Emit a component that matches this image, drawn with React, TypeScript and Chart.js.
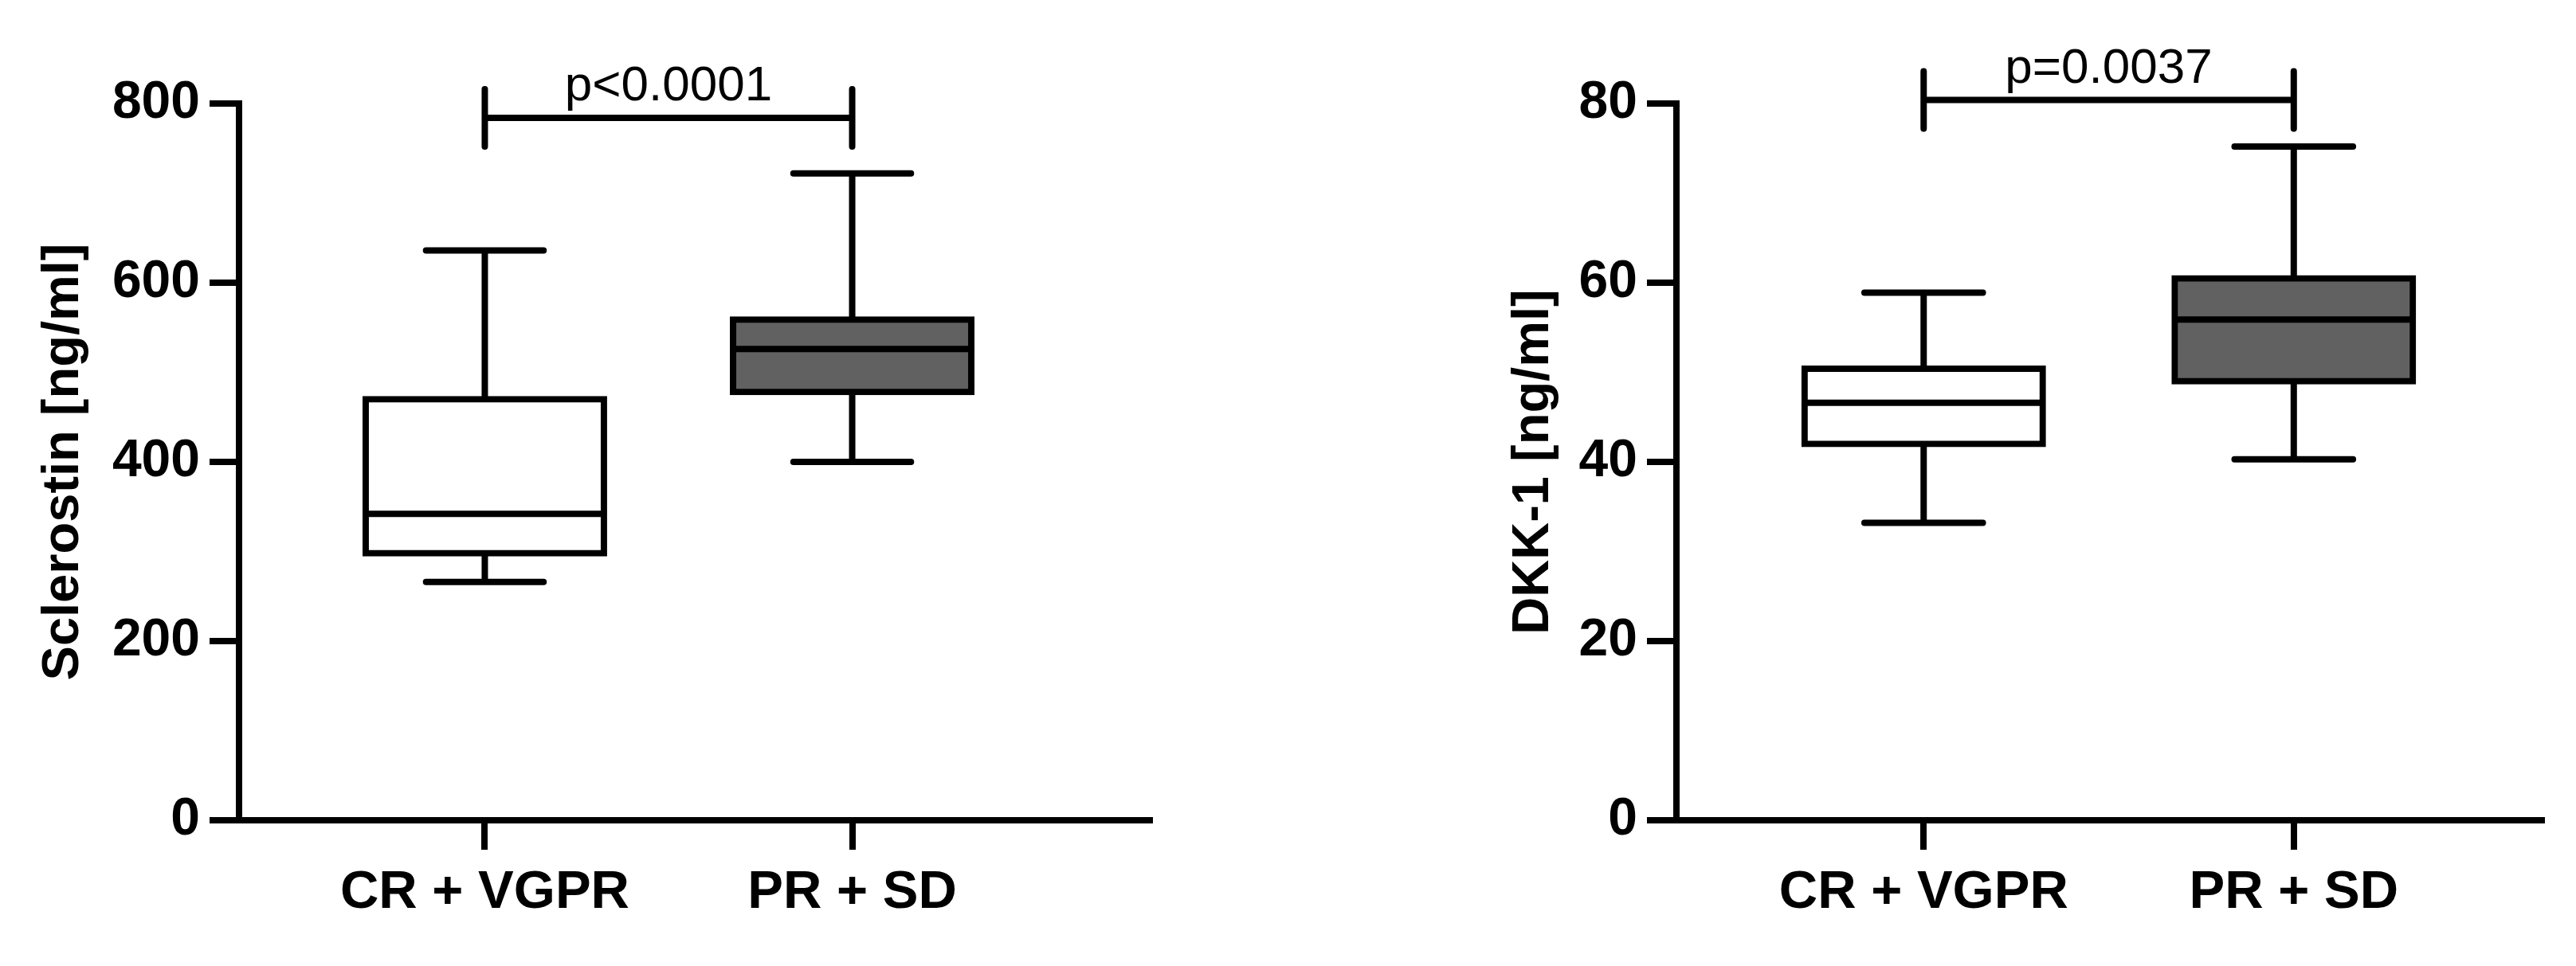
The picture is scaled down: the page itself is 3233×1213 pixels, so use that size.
import React, { useEffect, useRef } from "react";
import { Chart, registerables } from "chart.js";

Chart.register(...registerables);

// ---------- data ----------
const categories = ["CR + VGPR", "PR + SD"];
const positions = [1, 2];

const sclerostinMin = [266, 400];
const sclerostinQ1 = [298, 478];
const sclerostinMedian = [342, 526];
const sclerostinQ3 = [470, 559];
const sclerostinMax = [636, 722];
const sclerostinTicks = [0, 200, 400, 600, 800];
const sclerostinTitle = "Sclerostin [ng/ml]";
const sclerostinP = "p<0.0001";
const sclerostinBracketLevel = 784;

const dkkMin = [33.2, 40.3];
const dkkQ1 = [42.0, 49.0];
const dkkMedian = [46.6, 55.9];
const dkkQ3 = [50.4, 60.5];
const dkkMax = [58.9, 75.2];
const dkkTicks = [0, 20, 40, 60, 80];
const dkkTitle = "DKK-1 [ng/ml]";
const dkkP = "p=0.0037";
const dkkBracketLevel = 80.4;

const boxFills = ["#ffffff", "#616161"];

// ---------- styling ----------
const FONT = "'Liberation Sans', Arial, Helvetica, sans-serif";
const LINE = 8;

type PanelSpec = {
  mins: number[];
  q1: number[];
  med: number[];
  q3: number[];
  maxs: number[];
  ticks: number[];
  title: string;
  pText: string;
  bracket: number;
  xMin: number;
  xMax: number;
  yWidth: number;
  padRight: number;
};

function makeConfig(spec: PanelSpec): any {
  const whiskerPlugin = {
    id: "boxWhiskers",
    afterDatasetsDraw(chart: any) {
      const { ctx } = chart;
      const xs = chart.scales.x;
      const ys = chart.scales.y;
      const meta = chart.getDatasetMeta(0);
      ctx.save();
      ctx.strokeStyle = "#000";
      ctx.lineWidth = LINE;
      positions.forEach((pos, i) => {
        const el = meta.data[i];
        if (!el) return;
        const { x: cx, width } = el.getProps(["x", "width"], true);
        const capHalf = xs.getPixelForValue(pos + 0.16) - xs.getPixelForValue(pos);
        const yMin = ys.getPixelForValue(spec.mins[i]);
        const yQ1 = ys.getPixelForValue(spec.q1[i]);
        const yMed = ys.getPixelForValue(spec.med[i]);
        const yQ3 = ys.getPixelForValue(spec.q3[i]);
        const yMax = ys.getPixelForValue(spec.maxs[i]);
        // whisker stems
        ctx.lineCap = "butt";
        ctx.beginPath();
        ctx.moveTo(cx, yQ3);
        ctx.lineTo(cx, yMax);
        ctx.moveTo(cx, yQ1);
        ctx.lineTo(cx, yMin);
        ctx.stroke();
        // median
        ctx.beginPath();
        ctx.moveTo(cx - width / 2, yMed);
        ctx.lineTo(cx + width / 2, yMed);
        ctx.stroke();
        // caps
        ctx.lineCap = "round";
        ctx.beginPath();
        ctx.moveTo(cx - capHalf, yMax);
        ctx.lineTo(cx + capHalf, yMax);
        ctx.moveTo(cx - capHalf, yMin);
        ctx.lineTo(cx + capHalf, yMin);
        ctx.stroke();
      });
      // significance bracket
      const bx1 = xs.getPixelForValue(positions[0]);
      const bx2 = xs.getPixelForValue(positions[1]);
      const by = ys.getPixelForValue(spec.bracket);
      ctx.lineCap = "butt";
      ctx.beginPath();
      ctx.moveTo(bx1, by);
      ctx.lineTo(bx2, by);
      ctx.stroke();
      ctx.lineCap = "round";
      ctx.beginPath();
      ctx.moveTo(bx1, by - 36);
      ctx.lineTo(bx1, by + 36);
      ctx.moveTo(bx2, by - 36);
      ctx.lineTo(bx2, by + 36);
      ctx.stroke();
      ctx.fillStyle = "#000";
      ctx.font = `normal 62px ${FONT}`;
      ctx.textAlign = "center";
      ctx.textBaseline = "alphabetic";
      ctx.fillText(spec.pText, (bx1 + bx2) / 2, by - 22);
      ctx.restore();
    },
  };

  const gridOpts = {
    display: true,
    drawOnChartArea: false,
    drawTicks: true,
    tickLength: 37,
    lineWidth: LINE,
    color: "#000",
    offset: false,
  };
  const borderOpts = { display: true, width: LINE, color: "#000" };

  return {
    type: "bar",
    data: {
      datasets: [
        {
          data: positions.map((p, i) => ({ x: p, y: [spec.q1[i], spec.q3[i]] })),
          backgroundColor: boxFills,
          borderColor: "#000",
          borderWidth: LINE,
          borderSkipped: false,
          inflateAmount: LINE / 2,
          barThickness: 299,
        },
      ],
    },
    options: {
      responsive: false,
      animation: false,
      devicePixelRatio: 1,
      layout: { padding: { top: 130, right: spec.padRight, bottom: 0, left: 0 } },
      plugins: { legend: { display: false }, tooltip: { enabled: false } },
      scales: {
        x: {
          type: "linear",
          min: spec.xMin,
          max: spec.xMax,
          offset: false,
          afterBuildTicks: (s: any) => {
            s.ticks = positions.map((v) => ({ value: v }));
          },
          afterFit: (s: any) => {
            s.height = 183;
          },
          grid: gridOpts,
          border: borderOpts,
          ticks: {
            callback: (v: any) => {
              const idx = positions.indexOf(Number(v));
              return idx >= 0 ? categories[idx] : "";
            },
            font: { family: FONT, size: 67, weight: "bold", lineHeight: 1 },
            color: "#000",
            padding: 21,
            maxRotation: 0,
            autoSkip: false,
          },
        },
        y: {
          type: "linear",
          min: spec.ticks[0],
          max: spec.ticks[spec.ticks.length - 1],
          afterBuildTicks: (s: any) => {
            s.ticks = spec.ticks.map((v) => ({ value: v }));
          },
          afterFit: (s: any) => {
            s.width = spec.yWidth;
          },
          grid: gridOpts,
          border: borderOpts,
          ticks: {
            font: { family: FONT, size: 66, weight: "bold", lineHeight: 1 },
            color: "#000",
            padding: 12,
          },
          title: {
            display: true,
            text: spec.title,
            color: "#000",
            font: { family: FONT, size: 65, weight: "bold", lineHeight: 1 },
            padding: { top: 47.5, bottom: 0 },
          },
        },
      },
    },
    plugins: [whiskerPlugin],
  };
}

export default function App() {
  const leftRef = useRef<HTMLCanvasElement | null>(null);
  const rightRef = useRef<HTMLCanvasElement | null>(null);

  useEffect(() => {
    const charts: Chart[] = [];
    if (leftRef.current) {
      charts.push(
        new Chart(
          leftRef.current,
          makeConfig({
            mins: sclerostinMin,
            q1: sclerostinQ1,
            med: sclerostinMedian,
            q3: sclerostinQ3,
            maxs: sclerostinMax,
            ticks: sclerostinTicks,
            title: sclerostinTitle,
            pText: sclerostinP,
            bracket: sclerostinBracketLevel,
            xMin: 0.331,
            xMax: 2.81,
            yWidth: 300,
            padRight: 57,
          })
        )
      );
    }
    if (rightRef.current) {
      charts.push(
        new Chart(
          rightRef.current,
          makeConfig({
            mins: dkkMin,
            q1: dkkQ1,
            med: dkkMedian,
            q3: dkkQ3,
            maxs: dkkMax,
            ticks: dkkTicks,
            title: dkkTitle,
            pText: dkkP,
            bracket: dkkBracketLevel,
            xMin: 0.332,
            xMax: 2.67,
            yWidth: 259,
            padRight: 43,
          })
        )
      );
    }
    return () => charts.forEach((c) => c.destroy());
  }, []);

  return (
    <div
      style={{
        position: "absolute",
        left: 0,
        top: 0,
        width: 3233,
        height: 1213,
        background: "#fff",
        overflow: "hidden",
      }}
    >
      <canvas
        ref={leftRef}
        width={1500}
        height={1213}
        style={{ position: "absolute", left: 0, top: 0, width: 1500, height: 1213 }}
      />
      <canvas
        ref={rightRef}
        width={1388}
        height={1213}
        style={{ position: "absolute", left: 1845, top: 0, width: 1388, height: 1213 }}
      />
    </div>
  );
}
